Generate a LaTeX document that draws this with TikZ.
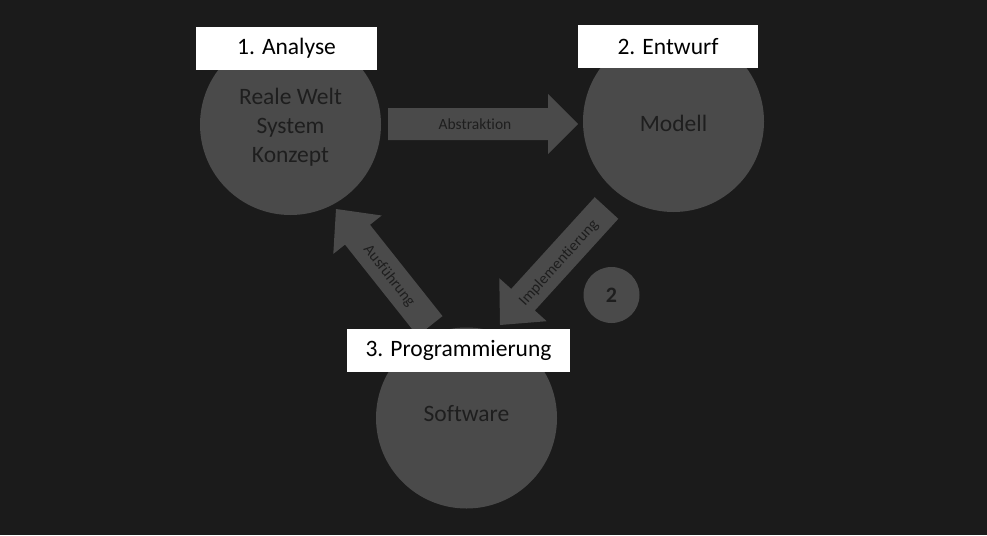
\documentclass[tikz,border=0pt]{standalone}
\usepackage{fontspec}
\setmainfont{Carlito}[Ligatures=NoCommon]
\definecolor{bgc}{HTML}{1B1B1B}
\definecolor{circc}{HTML}{4A4A4A}
\definecolor{darktxt}{HTML}{1E1E1E}
\begin{document}
\begin{tikzpicture}[x=1pt,y=-1pt,
  bigcirc/.style={circle,fill=circc,minimum size=181pt,inner sep=0pt,text=darktxt,
    font=\fontsize{23.5}{29}\selectfont,align=center},
  labelbox/.style={rectangle,fill=white,inner sep=0pt,text=black,
    font=\fontsize{23.5}{28}\selectfont},
  fatarrow/.style={fill=circc,draw=none},
  arrowtext/.style={text=darktxt,font=\fontsize{15.5}{18}\selectfont,inner sep=0pt}]
\useasboundingbox (0,0) rectangle (987,535);
\fill[bgc] (0,0) rectangle (987,535);

% circles
\node[bigcirc] (welt) at (290.5,124.5) {};
\node[text=darktxt,font=\fontsize{23.5}{29}\selectfont,align=center] (welttxt) at (290.5,127) {Reale Welt\\System\\Konzept};
\node[bigcirc] (modell) at (673.5,121.5) {};
\node[text=darktxt,font=\fontsize{23.5}{29}\selectfont] (modelltxt) at (673.5,123) {Modell};
\node[bigcirc] (software) at (466.5,418) {};
\node[text=darktxt,font=\fontsize{23.5}{29}\selectfont] (softtxt) at (466.5,414) {Software};
\node[circle,fill=circc,minimum size=56pt,inner sep=0pt,text=darktxt,
  font=\fontsize{22}{26}\selectfont\bfseries] (two) at (611.5,295) {2};

% Abstraktion arrow
\coordinate (abtail) at (388,124);
\coordinate (abtip) at (578,124);
\fill[fatarrow] (388,108) -- (548,108) -- (548,94) -- (abtip) -- (548,154) -- (548,140) -- (388,140) -- cycle;
\node[arrowtext] (abtxt) at (475,124) {Abstraktion};

% Ausfuehrung arrow
\coordinate (autip) at (336,209);
\fill[fatarrow] (442.5,316.1) -- (370,224.8) -- (381.7,215.5) -- (autip) -- (333.3,253.9) -- (345,244.6) -- (417.5,335.9) -- cycle;
\node[arrowtext,rotate=-51.5] (autxt) at (389,276) {Ausführung};

% Implementierung arrow
\coordinate (imtip) at (500,325);
\fill[fatarrow] (618.3,218.8) -- (534.8,310.5) -- (546.7,321.2) -- (imtip) -- (499.3,278.2) -- (511.2,288.9) -- (594.7,197.2) -- cycle;
\node[arrowtext,rotate=47.7] (imtxt) at (559,263) {Implementierung};

% label boxes
\node[labelbox,minimum width=181pt,minimum height=43pt] (b1) at (286.5,48.5) {1. Analyse};
\node[labelbox,minimum width=180pt,minimum height=43pt] (b2) at (668,46.5) {2. Entwurf};
\node[labelbox,minimum width=223pt,minimum height=43pt] (b3) at (458.5,350.5) {3. Programmierung};
\end{tikzpicture}
\end{document}
